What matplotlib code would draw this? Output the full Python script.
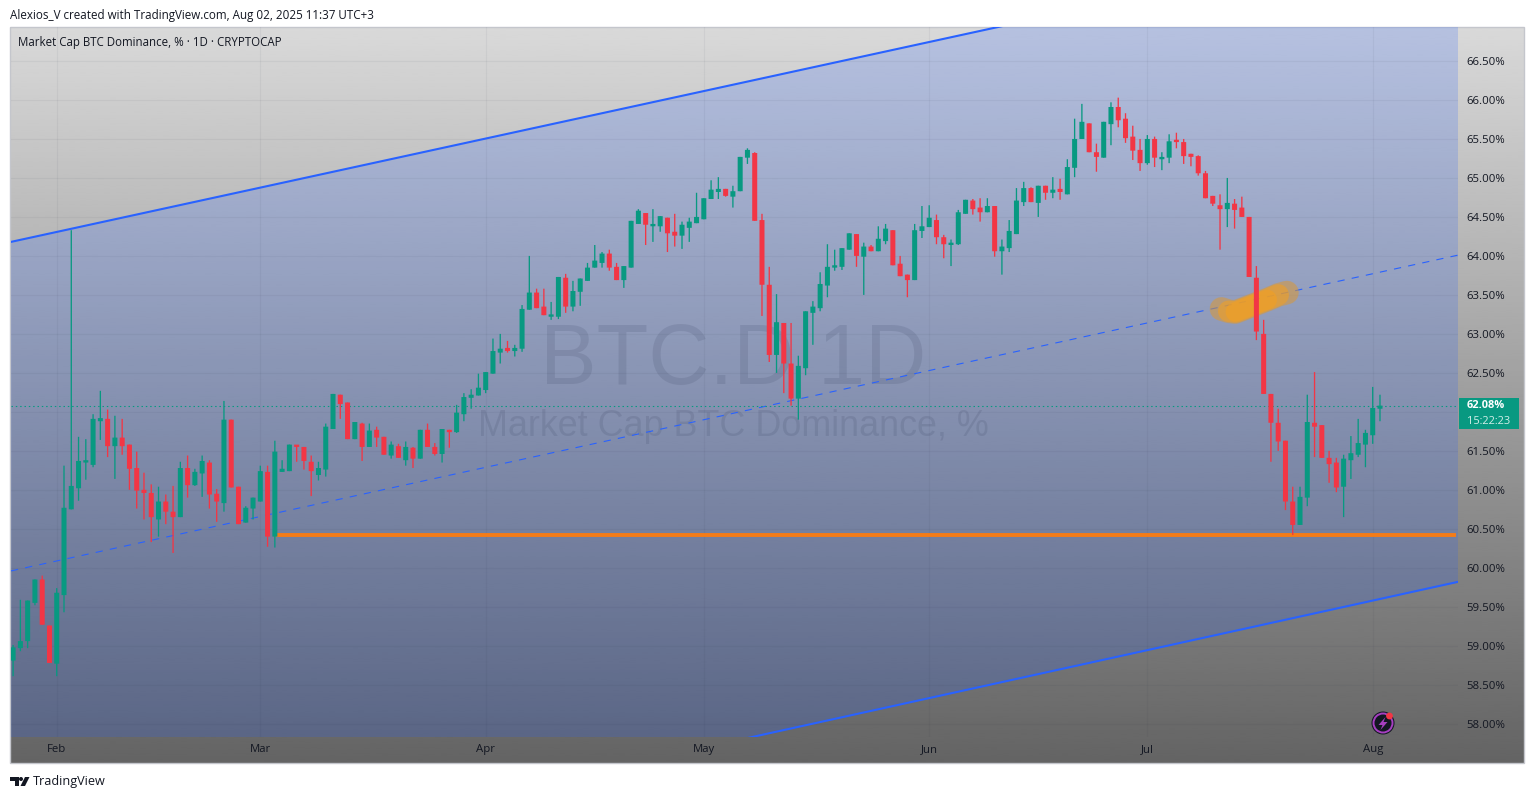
"""BTC dominance daily candles with a rising channel, TradingView look."""

import matplotlib
matplotlib.use("Agg")
import matplotlib.pyplot as plt
import numpy as np
from matplotlib.patches import Circle, Polygon, Rectangle

# days counted from Feb 1 2025
DAYS = np.arange(-6, 183)

OPENS = [
    58.81, 58.97, 59.06, 59.55, 59.85, 59.26, 58.77, 59.65, 60.75, 61.02,
    61.35, 61.32, 61.88, 61.91, 61.56, 61.67, 61.58, 61.28, 61.00, 60.96,
    60.62, 60.85, 60.72, 60.65, 61.28, 61.06, 61.21, 61.35, 60.95, 60.83,
    61.90, 61.04, 60.58, 60.76, 60.85, 61.23, 60.40, 61.23, 61.24, 61.56,
    61.55, 61.36, 61.19, 61.26, 61.78, 62.22, 62.12, 61.65, 61.85, 61.55,
    61.77, 61.68, 61.44, 61.56, 61.38, 61.54, 61.40, 61.77, 61.55, 61.46,
    61.77, 61.74, 61.97, 62.18, 62.21, 62.28, 62.49, 62.76, 62.82, 62.78,
    62.81, 63.31, 63.53, 63.35, 63.22, 63.22, 63.72, 63.35, 63.54, 63.68,
    63.85, 63.91, 64.03, 63.86, 63.69, 63.85, 64.41, 64.55, 64.38, 64.38,
    64.49, 64.31, 64.26, 64.36, 64.42, 64.47, 64.73, 64.82, 64.86, 64.76,
    64.83, 65.26, 65.32, 64.46, 63.63, 62.73, 63.14, 62.62, 62.17, 62.56,
    63.27, 63.33, 63.62, 63.85, 63.86, 64.08, 64.28, 63.99, 64.12, 64.06,
    64.19, 64.33, 63.90, 63.76, 63.69, 64.32, 64.37, 64.46, 64.24, 64.14,
    64.15, 64.54, 64.71, 64.62, 64.56, 64.64, 64.06, 64.10, 64.28, 64.69,
    64.87, 64.68, 64.90, 64.81, 64.86, 64.79, 65.13, 65.50, 65.70, 65.33,
    65.26, 65.69, 65.91, 65.76, 65.53, 65.36, 65.19, 65.50, 65.24, 65.26,
    65.47, 65.46, 65.31, 65.28, 65.06, 64.77, 64.65, 64.60, 64.67, 64.62,
    64.50, 63.72, 63.00, 62.23, 61.86, 61.63, 60.85, 60.55, 60.90, 61.86,
    61.83, 61.41, 61.35, 61.04, 61.38, 61.45, 61.58, 61.70, 62.04,
]
HIGHS = [
    59.01, 59.59, 59.58, 59.85, 59.90, 59.26, 59.74, 61.31, 64.33, 61.68,
    61.65, 61.97, 62.27, 62.03, 61.95, 61.91, 61.58, 61.49, 61.22, 61.07,
    61.04, 60.94, 61.05, 61.36, 61.44, 61.27, 61.44, 61.38, 61.01, 62.14,
    61.90, 61.04, 60.79, 60.90, 61.31, 61.31, 61.63, 61.38, 61.58, 61.56,
    61.55, 61.44, 61.36, 61.85, 62.23, 62.22, 62.12, 61.87, 61.86, 61.85,
    61.81, 61.68, 61.62, 61.59, 61.62, 61.55, 61.77, 61.85, 61.60, 61.78,
    61.77, 62.09, 62.24, 62.29, 62.49, 62.51, 62.94, 63.00, 62.91, 62.86,
    63.37, 64.00, 63.58, 63.58, 63.41, 63.73, 63.77, 63.68, 63.71, 63.91,
    64.14, 64.05, 64.08, 63.91, 63.87, 64.45, 64.60, 64.55, 64.60, 64.51,
    64.49, 64.54, 64.44, 64.49, 64.81, 64.74, 64.97, 65.01, 64.86, 64.90,
    65.27, 65.38, 65.33, 64.54, 63.86, 63.51, 63.14, 63.14, 62.72, 63.29,
    63.42, 63.79, 64.15, 64.08, 64.10, 64.29, 64.28, 64.17, 64.14, 64.38,
    64.41, 64.33, 64.00, 63.76, 64.41, 64.64, 64.65, 64.53, 64.27, 64.21,
    64.59, 64.72, 64.73, 64.74, 64.74, 64.64, 64.21, 64.46, 64.87, 64.95,
    64.88, 64.90, 64.90, 65.01, 64.99, 65.24, 65.76, 65.95, 65.70, 65.44,
    65.72, 65.97, 66.03, 65.83, 65.67, 65.50, 65.55, 65.53, 65.33, 65.56,
    65.58, 65.50, 65.31, 65.29, 65.09, 64.77, 64.79, 65.00, 64.73, 64.76,
    64.50, 63.87, 63.18, 62.23, 62.04, 61.63, 61.04, 61.04, 62.22, 62.51,
    61.83, 61.50, 61.41, 61.45, 61.69, 61.91, 61.77, 62.32, 62.22,
]
LOWS = [
    58.61, 58.93, 58.97, 59.52, 59.27, 58.78, 58.61, 59.43, 60.75, 60.86,
    61.13, 61.29, 61.64, 61.42, 61.14, 61.45, 61.00, 60.76, 60.62, 60.33,
    60.40, 60.56, 60.19, 60.65, 60.90, 61.05, 60.91, 60.76, 60.59, 60.72,
    61.03, 60.56, 60.58, 60.62, 60.85, 60.27, 60.26, 61.23, 61.24, 61.36,
    61.26, 60.92, 61.12, 61.17, 61.78, 61.91, 61.65, 61.65, 61.37, 61.55,
    61.55, 61.45, 61.40, 61.41, 61.31, 61.28, 61.40, 61.55, 61.44, 61.35,
    61.54, 61.73, 61.88, 62.04, 62.21, 62.24, 62.49, 62.62, 62.76, 62.71,
    62.77, 63.31, 63.33, 63.24, 63.18, 63.19, 63.27, 63.29, 63.36, 63.68,
    63.85, 63.85, 63.81, 63.69, 63.59, 63.85, 64.41, 64.14, 64.18, 64.31,
    64.05, 64.12, 64.09, 64.18, 64.42, 64.47, 64.73, 64.73, 64.76, 64.62,
    64.83, 65.18, 64.45, 63.23, 62.64, 62.50, 62.24, 62.08, 61.90, 62.47,
    62.86, 63.29, 63.47, 63.81, 63.82, 64.08, 63.86, 63.50, 64.06, 64.06,
    64.15, 63.88, 63.74, 63.47, 63.69, 64.23, 64.37, 64.15, 63.97, 63.87,
    64.14, 64.54, 64.53, 64.44, 64.56, 63.99, 63.76, 64.05, 64.28, 64.64,
    64.69, 64.50, 64.72, 64.74, 64.72, 64.79, 65.01, 65.50, 65.33, 65.08,
    65.26, 65.42, 65.65, 65.45, 65.23, 65.09, 65.17, 65.14, 65.10, 65.19,
    65.38, 65.18, 65.15, 65.03, 64.74, 64.64, 64.08, 64.37, 64.35, 64.50,
    63.73, 62.92, 62.23, 61.36, 61.50, 60.74, 60.42, 60.55, 60.79, 61.42,
    61.41, 61.09, 60.97, 60.65, 61.14, 61.42, 61.29, 61.59, 61.88,
]
CLOSES = [
    58.98, 59.06, 59.58, 59.85, 59.27, 58.78, 59.68, 60.77, 61.05, 61.37,
    61.36, 61.91, 61.92, 61.56, 61.67, 61.56, 61.27, 60.99, 60.96, 60.65,
    60.85, 60.72, 60.65, 61.28, 61.06, 61.23, 61.37, 60.94, 60.85, 61.90,
    61.03, 60.56, 60.77, 60.90, 61.24, 60.40, 61.49, 61.27, 61.58, 61.55,
    61.37, 61.24, 61.28, 61.81, 62.23, 62.10, 61.65, 61.87, 61.55, 61.76,
    61.67, 61.45, 61.58, 61.41, 61.55, 61.40, 61.77, 61.55, 61.46, 61.78,
    61.74, 61.99, 62.19, 62.22, 62.31, 62.51, 62.78, 62.81, 62.78, 62.82,
    63.32, 63.53, 63.33, 63.24, 63.23, 63.73, 63.35, 63.55, 63.71, 63.85,
    63.94, 64.03, 63.85, 63.69, 63.87, 64.45, 64.58, 64.40, 64.41, 64.51,
    64.29, 64.26, 64.40, 64.44, 64.50, 64.74, 64.85, 64.86, 64.77, 64.83,
    65.27, 65.36, 64.45, 63.63, 62.73, 63.15, 62.62, 62.17, 62.59, 63.29,
    63.35, 63.64, 63.86, 63.88, 64.10, 64.29, 64.00, 64.12, 64.06, 64.22,
    64.35, 63.88, 63.74, 63.69, 64.33, 64.38, 64.49, 64.24, 64.15, 64.17,
    64.56, 64.72, 64.60, 64.56, 64.64, 64.06, 64.12, 64.32, 64.71, 64.87,
    64.69, 64.90, 64.81, 64.85, 64.82, 65.14, 65.50, 65.72, 65.33, 65.27,
    65.72, 65.91, 65.74, 65.51, 65.35, 65.19, 65.50, 65.26, 65.27, 65.47,
    65.46, 65.28, 65.27, 65.06, 64.74, 64.67, 64.60, 64.68, 64.59, 64.50,
    63.73, 63.03, 62.23, 61.86, 61.62, 60.85, 60.55, 60.91, 61.87, 61.81,
    61.41, 61.33, 61.03, 61.40, 61.47, 61.60, 61.73, 62.05, 62.08,
]

MONTH_DAYS = [0, 28, 59, 89, 120, 150, 181]
MONTH_LABELS = ["Feb", "Mar", "Apr", "May", "Jun", "Jul", "Aug"]
PRICE_TICKS = [58.0 + 0.5 * i for i in range(18)]

# channel and level drawings, (day, percent)
EDGE_DAYS = [-6.29, 192.73]
CHANNEL_TOP = [64.18, 68.22]
CHANNEL_MID = [59.96, 64.01]
CHANNEL_BOTTOM = [55.74, 59.82]
SUPPORT_DAYS = [30, 192.4]
SUPPORT_LEVEL = 60.42
LAST_PRICE = 62.08

BRUSH_DAYS = [160.2, 161.2, 162.1, 166.5, 168.0, 169.2]
BRUSH_VALUES = [63.32, 63.29, 63.28, 63.44, 63.50, 63.53]

UP = "#089981"
DOWN = "#f23645"
BLUE = "#2962ff"
ORANGE = "#f57c17"
INK = "#131722"
FONT = "Open Sans"

W, H = 1534, 799
PANE = (11, 27, 1458, 737)


def draw_backdrop(fig):
    bg = fig.add_axes([0, 0, 1, 1], zorder=0)
    bg.set_xlim(0, W)
    bg.set_ylim(H, 0)
    bg.axis("off")
    ramp = np.linspace(217, 100, 256).reshape(-1, 1)
    bg.imshow(ramp, cmap="gray", vmin=0, vmax=255, aspect="auto",
              extent=(10, 1524, 763, 27), interpolation="bilinear")
    bg.set_xlim(0, W)
    bg.set_ylim(H, 0)
    bg.add_patch(Rectangle((10, 27), 1514, 736, fill=False, ec="#c4c6cc", lw=1.0))


def draw_chart(fig):
    x0, y0, x1, y1 = PANE
    ax = fig.add_axes([x0 / W, 1 - y1 / H, (x1 - x0) / W, (y1 - y0) / H], zorder=1)
    ax.patch.set_alpha(0)
    ax.set_xlim(EDGE_DAYS)
    ax.set_ylim(57.83, 66.936)
    for s in ax.spines.values():
        s.set_visible(False)

    ax.yaxis.tick_right()
    ax.set_yticks(PRICE_TICKS, [f"{v:.2f}%" for v in PRICE_TICKS])
    ax.set_xticks(MONTH_DAYS, MONTH_LABELS)
    ax.tick_params(axis="both", length=0, colors=INK, labelsize=8.2)
    ax.tick_params(axis="y", pad=6)
    ax.tick_params(axis="x", pad=5.2)
    for lab in ax.get_xticklabels() + ax.get_yticklabels():
        lab.set_fontfamily(FONT)
    for lab in ax.get_yticklabels():
        lab.set_verticalalignment("center_baseline")
    ax.grid(color="#20263c", alpha=0.05, lw=0.8)
    ax.set_axisbelow(True)

    # watermark
    ax.text(0.499, 0.528, "BTC.D 1D", transform=ax.transAxes,
            ha="center", va="center", fontsize=61, family="Liberation Sans",
            color="#232c4a", alpha=0.12, zorder=1)
    ax.text(0.499, 0.438, "Market Cap BTC Dominance, %", transform=ax.transAxes,
            ha="center", va="center", fontsize=25.85, family="Liberation Sans",
            color="#232c4a", alpha=0.12, zorder=1)

    # channel
    ax.fill_between(EDGE_DAYS, CHANNEL_TOP, CHANNEL_BOTTOM, color=BLUE, alpha=0.2,
                    lw=0, zorder=0.5)
    ax.plot(EDGE_DAYS, CHANNEL_TOP, color=BLUE, lw=1.5, zorder=2)
    ax.plot(EDGE_DAYS, CHANNEL_BOTTOM, color=BLUE, lw=1.5, zorder=2)
    ax.plot(EDGE_DAYS, CHANNEL_MID, color=BLUE, lw=0.8, ls=(0, (6.5, 6.5)), zorder=2)

    # highlighter strokes
    ax.plot(BRUSH_DAYS, BRUSH_VALUES, color="#e0982a", alpha=0.5, lw=17,
            solid_capstyle="round", solid_joinstyle="round", zorder=2.2)
    ax.plot(BRUSH_DAYS[1:5], BRUSH_VALUES[1:5], color="#f5a01e", alpha=0.55, lw=15.5,
            solid_capstyle="round", solid_joinstyle="round", zorder=2.3)
    ax.plot(BRUSH_DAYS[2:4], BRUSH_VALUES[2:4], color="#f5a01e", alpha=0.55, lw=14,
            solid_capstyle="round", solid_joinstyle="round", zorder=2.4)

    ax.plot(SUPPORT_DAYS, [SUPPORT_LEVEL, SUPPORT_LEVEL], color=ORANGE, lw=2.8,
            solid_capstyle="butt", zorder=2.5)
    ax.axhline(LAST_PRICE, color=UP, lw=0.8, ls=(0, (1.3, 2.6)), zorder=2.6)

    # candles, snapping off so wick and body stay centred on each other
    o, h, l, c = map(np.array, (OPENS, HIGHS, LOWS, CLOSES))
    colors = [UP if b >= a else DOWN for a, b in zip(o, c)]
    wicks = ax.vlines(DAYS, l, h, colors=colors, lw=0.95, zorder=3)
    wicks.set_snap(False)
    bottoms = np.minimum(o, c)
    heights = np.maximum(np.abs(c - o), 0.03)
    bodies = ax.bar(DAYS, heights, width=0.69, bottom=bottoms, color=colors, lw=0, zorder=3.1)
    for p in bodies:
        p.set_snap(False)
    return ax


def draw_overlay(fig):
    ov = fig.add_axes([0, 0, 1, 1], zorder=2)
    ov.patch.set_alpha(0)
    ov.set_xlim(0, W)
    ov.set_ylim(H, 0)
    ov.axis("off")

    ov.text(10, 15, "Alexios_V created with TradingView.com, Aug 02, 2025 11:37 UTC+3",
            fontsize=8.42, family=FONT, color=INK, va="center")
    ov.text(18, 42.5, "Market Cap BTC Dominance, % · 1D · CRYPTOCAP",
            fontsize=8.3, family=FONT, color=INK, va="center")

    # price tag
    ov.add_patch(Rectangle((1459, 398), 60, 31, color=UP, lw=0))
    ov.text(1467, 406, "62.08%", fontsize=7.9, family=FONT, weight="bold",
            color="white", va="center")
    ov.text(1467, 421.5, "15:22:23", fontsize=7.9, family=FONT, color="#d3efe9", va="center")

    # alert icon
    ov.add_patch(Circle((1383, 723), 11.5, color="#131722", lw=0))
    ov.add_patch(Circle((1383, 723), 9.5, fill=False, ec="#a63fc0", lw=1.4))
    ov.add_patch(Polygon([(1385.5, 717), (1378.5, 725), (1382.5, 725), (1380.5, 730),
                          (1387.5, 722), (1383.5, 722)], color="#a63fc0", lw=0))
    ov.add_patch(Circle((1389.5, 716), 3.4, color="#f23645", lw=0))

    # logo and brand
    ov.add_patch(Polygon([(10, 777), (18.5, 777), (18.5, 786), (14.5, 786), (14.5, 780.5),
                          (10, 780.5)], color=INK, lw=0))
    ov.add_patch(Circle((21, 779), 2, color=INK, lw=0))
    ov.add_patch(Polygon([(25, 777), (29.5, 777), (25, 786), (20.5, 786)], color=INK, lw=0))
    ov.text(33, 781.5, "TradingView", fontsize=9.1, family=FONT, color=INK, va="center")


def main():
    fig = plt.figure(figsize=(W / 100, H / 100), dpi=100, facecolor="white")
    draw_backdrop(fig)
    draw_chart(fig)
    draw_overlay(fig)
    fig.savefig("out.png", dpi=100)
    plt.close(fig)


if __name__ == "__main__":
    main()
